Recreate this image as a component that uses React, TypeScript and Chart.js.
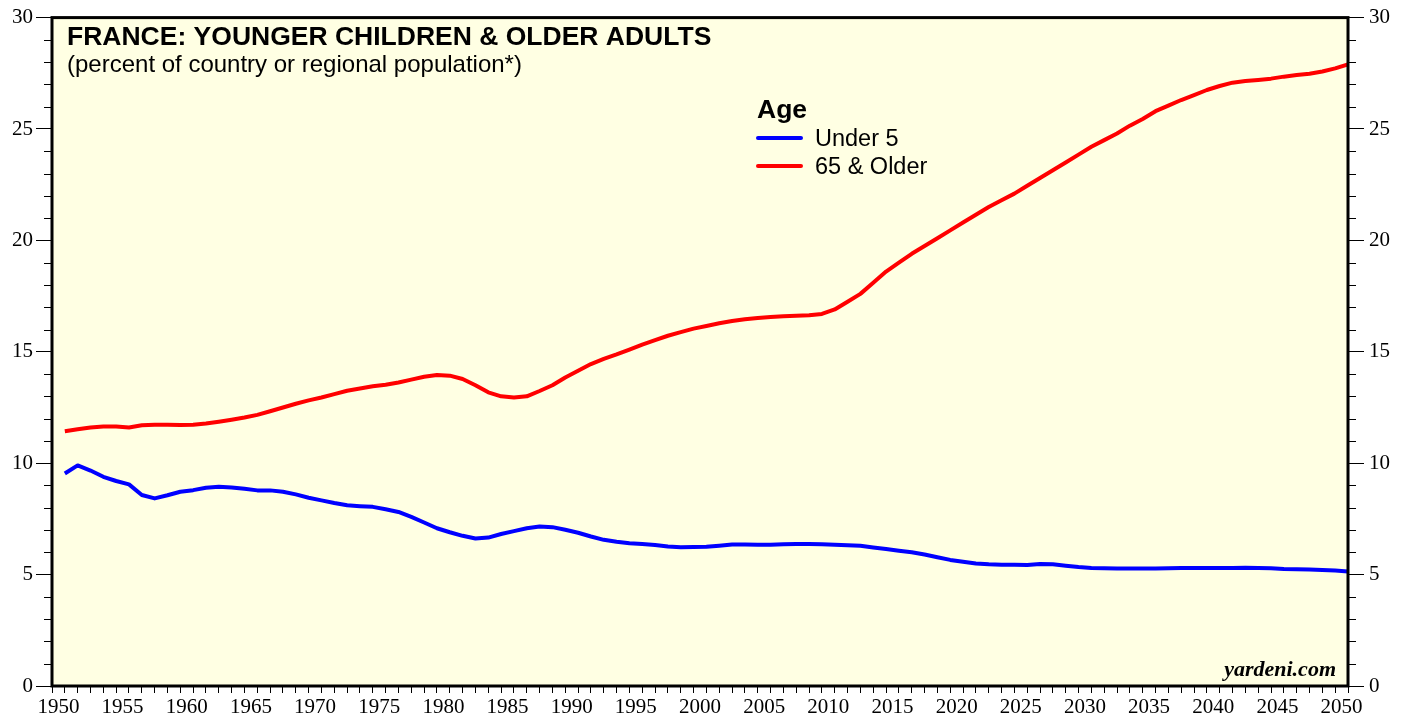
import React, { useEffect, useRef } from 'react';
import { Chart, registerables } from 'chart.js';

Chart.register(...registerables);

const years = [
  1950, 1951, 1952, 1953, 1954, 1955, 1956, 1957, 1958, 1959,
  1960, 1961, 1962, 1963, 1964, 1965, 1966, 1967, 1968, 1969,
  1970, 1971, 1972, 1973, 1974, 1975, 1976, 1977, 1978, 1979,
  1980, 1981, 1982, 1983, 1984, 1985, 1986, 1987, 1988, 1989,
  1990, 1991, 1992, 1993, 1994, 1995, 1996, 1997, 1998, 1999,
  2000, 2001, 2002, 2003, 2004, 2005, 2006, 2007, 2008, 2009,
  2010, 2011, 2012, 2013, 2014, 2015, 2016, 2017, 2018, 2019,
  2020, 2021, 2022, 2023, 2024, 2025, 2026, 2027, 2028, 2029,
  2030, 2031, 2032, 2033, 2034, 2035, 2036, 2037, 2038, 2039,
  2040, 2041, 2042, 2043, 2044, 2045, 2046, 2047, 2048, 2049,
  2050,
];

const under5 = [
  9.54, 9.9, 9.67, 9.39, 9.2, 9.05, 8.57, 8.42, 8.56, 8.72,
  8.79, 8.9, 8.94, 8.91, 8.85, 8.78, 8.78, 8.72, 8.6, 8.45,
  8.33, 8.21, 8.11, 8.07, 8.04, 7.93, 7.81, 7.59, 7.34, 7.08,
  6.9, 6.74, 6.62, 6.66, 6.82, 6.95, 7.08, 7.16, 7.13, 7.01,
  6.88, 6.71, 6.56, 6.47, 6.41, 6.37, 6.33, 6.26, 6.23, 6.24,
  6.25, 6.3, 6.35, 6.35, 6.34, 6.34, 6.36, 6.37, 6.37, 6.36,
  6.34, 6.32, 6.29, 6.22, 6.15, 6.07, 6.0, 5.9, 5.78, 5.66,
  5.58, 5.5, 5.46, 5.44, 5.44, 5.43, 5.48, 5.46, 5.4, 5.34,
  5.3, 5.28, 5.27, 5.27, 5.27, 5.27, 5.29, 5.3, 5.3, 5.3,
  5.3, 5.3, 5.31, 5.3, 5.28, 5.25, 5.24, 5.23, 5.21, 5.18,
  5.14,
];

const olderAdults = [
  11.43, 11.52, 11.6, 11.65, 11.65, 11.6, 11.7, 11.73, 11.73, 11.72,
  11.73, 11.78, 11.86, 11.95, 12.05, 12.17, 12.33, 12.5, 12.67, 12.82,
  12.95, 13.1, 13.25, 13.35, 13.45, 13.52, 13.62, 13.75, 13.88, 13.96,
  13.93, 13.78, 13.5, 13.18, 13.0, 12.95, 13.0, 13.24, 13.5, 13.85,
  14.15, 14.45, 14.68, 14.88, 15.1, 15.32, 15.52, 15.72, 15.88, 16.04,
  16.16, 16.28, 16.38, 16.46, 16.52, 16.56, 16.6, 16.62, 16.64, 16.7,
  16.9, 17.25, 17.6, 18.1, 18.6, 19.0, 19.4, 19.75, 20.1, 20.45,
  20.8, 21.15, 21.5, 21.8, 22.1, 22.45, 22.8, 23.15, 23.5, 23.85,
  24.2, 24.5, 24.8, 25.15, 25.45, 25.8, 26.05, 26.3, 26.52, 26.75,
  26.93, 27.08, 27.15, 27.2, 27.26, 27.35, 27.42, 27.48, 27.58, 27.72,
  27.9,
];

const seriesLabels = ['Under 5', '65 & Older'];
const seriesColors = ['#0000FF', '#FF0000'];
const legendTitle = 'Age';
const chartTitle = 'FRANCE: YOUNGER CHILDREN & OLDER ADULTS';
const chartSubtitle = '(percent of country or regional population*)';
const sourceNote = 'yardeni.com';

const X_MIN = 1949;
const X_MAX = 2050;
const Y_MIN = 0;
const Y_MAX = 30;
const Y_MAJOR_STEP = 5;

const SANS = '"Liberation Sans", Arial, Helvetica, sans-serif';
const SERIF = '"Liberation Serif", "Times New Roman", Times, serif';

const decorPlugin = {
  id: 'decor',
  beforeDraw(chart: any) {
    const { ctx, chartArea: a } = chart;
    ctx.save();
    ctx.fillStyle = '#FFFFE3';
    ctx.fillRect(a.left, a.top, a.right - a.left, a.bottom - a.top);
    ctx.restore();
  },
  afterDraw(chart: any) {
    const { ctx, chartArea: a, scales } = chart;
    const yScale = scales.y;
    ctx.save();
    // minor y ticks on both sides
    ctx.strokeStyle = '#000';
    ctx.lineWidth = 1;
    for (let v = Y_MIN; v <= Y_MAX; v += 1) {
      if (v % Y_MAJOR_STEP === 0) continue;
      const py = Math.round(yScale.getPixelForValue(v)) + 0.5;
      ctx.beginPath();
      ctx.moveTo(a.left - 8, py);
      ctx.lineTo(a.left, py);
      ctx.moveTo(a.right, py);
      ctx.lineTo(a.right + 8, py);
      ctx.stroke();
    }
    // frame
    ctx.lineWidth = 3;
    ctx.strokeStyle = '#000';
    ctx.strokeRect(a.left, a.top, a.right - a.left, a.bottom - a.top);

    // title & subtitle
    ctx.fillStyle = '#000';
    ctx.textAlign = 'left';
    ctx.textBaseline = 'alphabetic';
    ctx.font = `bold 26.5px ${SANS}`;
    ctx.fillText(chartTitle, a.left + 15, a.top + 27);
    ctx.font = `24px ${SANS}`;
    ctx.fillText(chartSubtitle, a.left + 15, a.top + 54);

    // legend
    const lx = 757;
    ctx.font = `bold 26.5px ${SANS}`;
    ctx.fillText(legendTitle, lx, 118);
    const ds = chart.data.datasets;
    ctx.font = `23.5px ${SANS}`;
    ds.forEach((d: any, i: number) => {
      const cy = 138 + i * 28;
      ctx.strokeStyle = d.borderColor;
      ctx.lineWidth = 4;
      ctx.lineCap = 'round';
      ctx.beginPath();
      ctx.moveTo(lx + 1, cy);
      ctx.lineTo(lx + 44, cy);
      ctx.stroke();
      ctx.fillStyle = '#000';
      ctx.fillText(d.label, lx + 58, cy + 8);
    });

    // source note
    ctx.font = `italic bold 22px ${SERIF}`;
    ctx.textAlign = 'right';
    ctx.fillText(sourceNote, a.right - 12, a.bottom - 10);
    ctx.restore();
  },
};

export default function App() {
  const canvasRef = useRef<HTMLCanvasElement | null>(null);

  useEffect(() => {
    document.body.style.margin = '0';
    const canvas = canvasRef.current;
    if (!canvas) return;

    const yAxis = (position: 'left' | 'right', width: number, padding: number) => ({
      type: 'linear' as const,
      position,
      min: Y_MIN,
      max: Y_MAX,
      afterFit: (s: any) => {
        s.width = width;
      },
      ticks: {
        stepSize: Y_MAJOR_STEP,
        color: '#000',
        padding,
        font: { family: SERIF, size: 21 },
      },
      grid: {
        display: true,
        drawOnChartArea: false,
        drawTicks: true,
        tickLength: 16,
        color: '#000',
        lineWidth: 1,
      },
      border: { display: false },
    });

    const chart = new Chart(canvas, {
      type: 'line',
      data: {
        datasets: [
          {
            label: seriesLabels[0],
            data: years.map((yr, i) => ({ x: yr, y: under5[i] })),
            borderColor: seriesColors[0],
            backgroundColor: seriesColors[0],
            borderWidth: 4,
            pointRadius: 0,
            tension: 0,
            borderJoinStyle: 'round',
            fill: false,
          },
          {
            label: seriesLabels[1],
            data: years.map((yr, i) => ({ x: yr, y: olderAdults[i] })),
            borderColor: seriesColors[1],
            backgroundColor: seriesColors[1],
            borderWidth: 4,
            pointRadius: 0,
            tension: 0,
            borderJoinStyle: 'round',
            fill: false,
          },
        ],
      },
      options: {
        animation: false,
        responsive: false,
        devicePixelRatio: 1,
        layout: { padding: { top: 14, left: 0, right: 0, bottom: 0 } },
        plugins: {
          legend: { display: false },
          tooltip: { enabled: false },
          title: { display: false },
        },
        scales: {
          x: {
            type: 'linear',
            position: 'bottom',
            min: X_MIN,
            max: X_MAX,
            afterFit: (s: any) => {
              s.height = 31;
            },
            afterBuildTicks: (s: any) => {
              const t: any[] = [];
              for (let v = X_MIN; v <= X_MAX; v++) t.push({ value: v });
              s.ticks = t;
            },
            ticks: {
              autoSkip: false,
              maxRotation: 0,
              minRotation: 0,
              color: '#000',
              padding: 2,
              labelOffset: -6.4,
              font: { family: SERIF, size: 21 },
              callback: (v: any) => (Number(v) % 5 === 0 ? String(v) : ''),
            },
            grid: {
              display: true,
              drawOnChartArea: false,
              drawTicks: true,
              tickLength: 7,
              color: '#000',
              lineWidth: 1,
            },
            border: { display: false },
          },
          y: yAxis('left', 52, 3),
          y2: yAxis('right', 59, 5),
        },
      },
      plugins: [decorPlugin],
    });

    return () => chart.destroy();
  }, []);

  return (
    <div style={{ width: 1407, height: 717, background: '#fff' }}>
      <canvas ref={canvasRef} width={1407} height={717} style={{ display: 'block' }} />
    </div>
  );
}
